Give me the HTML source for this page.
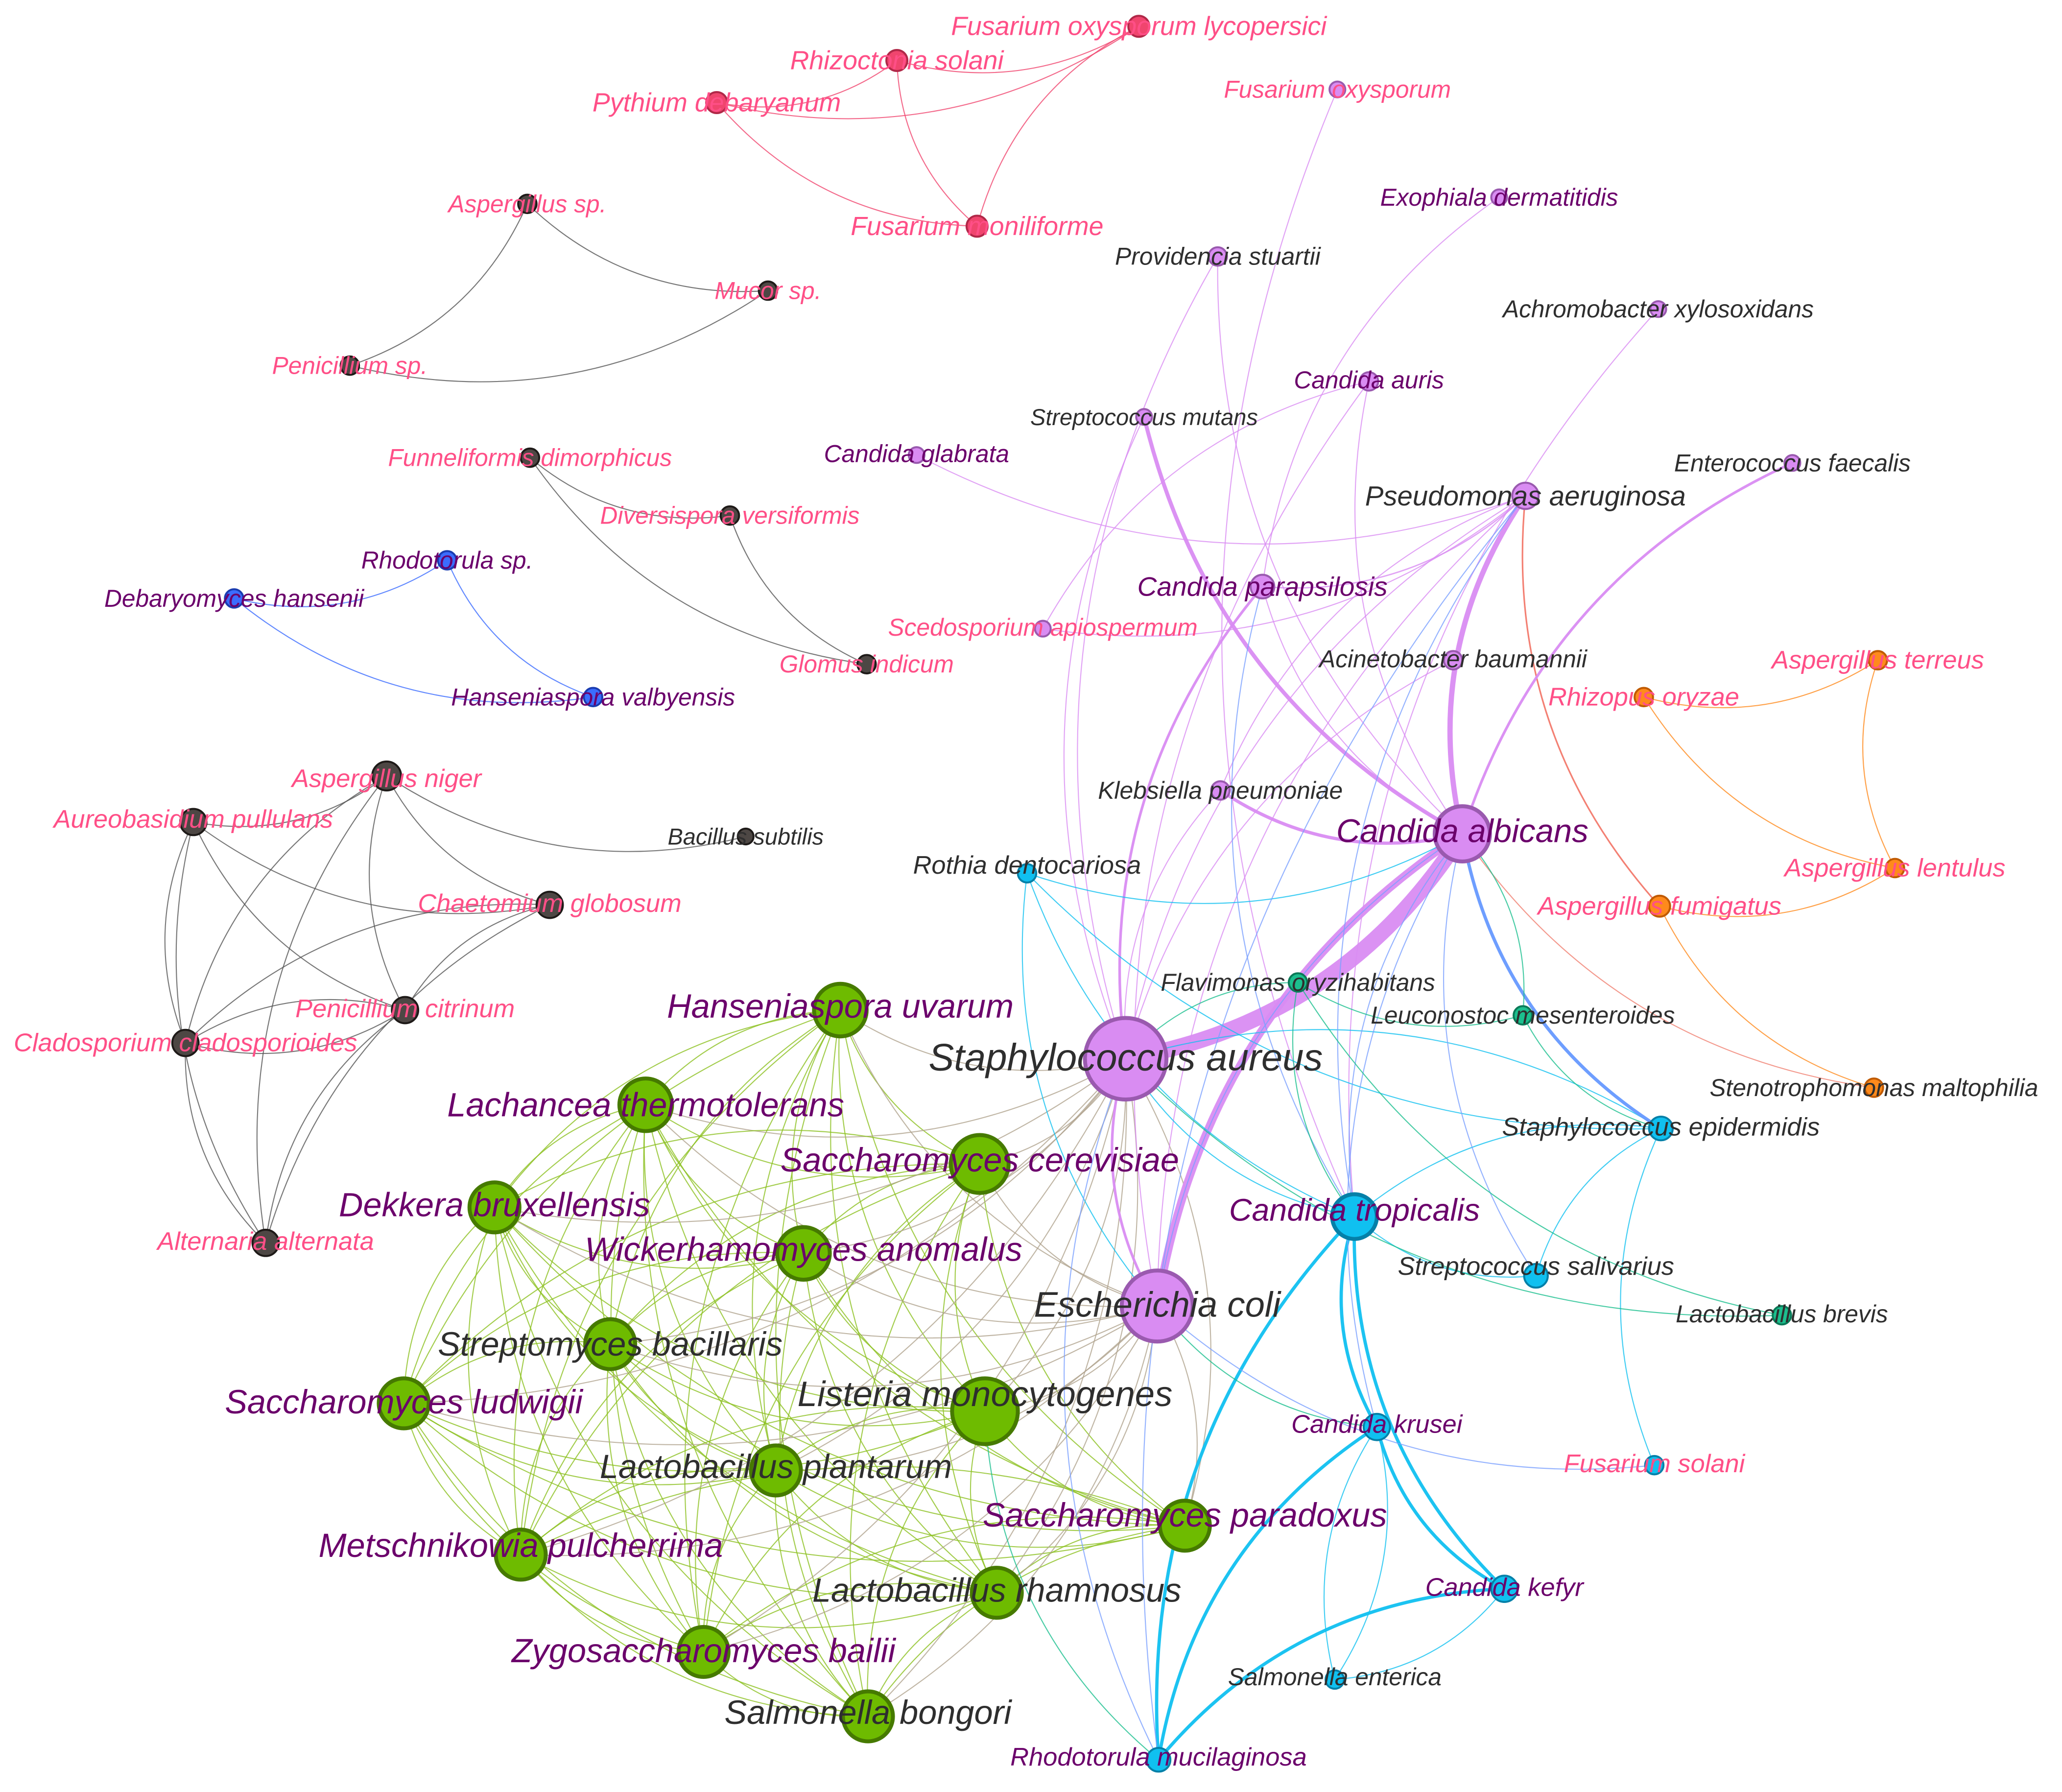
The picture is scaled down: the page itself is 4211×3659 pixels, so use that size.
<!DOCTYPE html>
<html><head><meta charset="utf-8"><style>
html,body{margin:0;padding:0;background:#fff;}
svg{display:block;}
text{font-family:"Liberation Sans",Arial,sans-serif;font-style:italic;dominant-baseline:central;text-anchor:middle;}
.p{fill:#ff4f87}.v{fill:#6b006b}.d{fill:#2e2e2e}
</style></head><body>
<svg id="s" xmlns="http://www.w3.org/2000/svg" width="4211" height="3659" viewBox="0 0 1568 1362.5">
<rect width="1568" height="1362.5" fill="#fff"/>
<g id="edges" fill="none"></g>
<g id="nodes"></g>
<g id="labels">
<text x="866" y="20" class="p" font-size="20">Fusarium oxysporum lycopersici</text>
<text x="682" y="46" class="p" font-size="20">Rhizoctonia solani</text>
<text x="545" y="78" class="p" font-size="20">Pythium debaryanum</text>
<text x="743" y="172" class="p" font-size="20">Fusarium moniliforme</text>
<text x="1017" y="68" class="p" font-size="18.5">Fusarium oxysporum</text>
<text x="401" y="155" class="p" font-size="18.5">Aspergillus sp.</text>
<text x="584" y="221" class="p" font-size="18.5">Mucor sp.</text>
<text x="266" y="278" class="p" font-size="18.5">Penicillium sp.</text>
<text x="403" y="348" class="p" font-size="18.5">Funneliformis dimorphicus</text>
<text x="555" y="392" class="p" font-size="18.5">Diversispora versiformis</text>
<text x="659" y="505" class="p" font-size="18.5">Glomus indicum</text>
<text x="340" y="426" class="v" font-size="18.5">Rhodotorula sp.</text>
<text x="178" y="455" class="v" font-size="18.5">Debaryomyces hansenii</text>
<text x="451" y="530" class="v" font-size="18.5">Hanseniaspora valbyensis</text>
<text x="294" y="592" class="p" font-size="19.5">Aspergillus niger</text>
<text x="147" y="623" class="p" font-size="19.5">Aureobasidium pullulans</text>
<text x="567" y="636" class="d" font-size="17.5">Bacillus subtilis</text>
<text x="418" y="687" class="p" font-size="19.5">Chaetomium globosum</text>
<text x="308" y="767" class="p" font-size="19.5">Penicillium citrinum</text>
<text x="141" y="793" class="p" font-size="19.5">Cladosporium cladosporioides</text>
<text x="202" y="944" class="p" font-size="19.5">Alternaria alternata</text>
<text x="1428" y="502" class="p" font-size="19.5">Aspergillus terreus</text>
<text x="1250" y="530" class="p" font-size="19.5">Rhizopus oryzae</text>
<text x="1441" y="660" class="p" font-size="19.5">Aspergillus lentulus</text>
<text x="1262" y="689" class="p" font-size="19.5">Aspergillus fumigatus</text>
<text x="1425" y="827" class="d" font-size="18.5">Stenotrophomonas maltophilia</text>
<text x="1140" y="150" class="v" font-size="18.5">Exophiala dermatitidis</text>
<text x="926" y="195" class="d" font-size="18.5">Providencia stuartii</text>
<text x="1261" y="235" class="d" font-size="18.5">Achromobacter xylosoxidans</text>
<text x="1041" y="289" class="v" font-size="18.5">Candida auris</text>
<text x="870" y="317" class="d" font-size="17.5">Streptococcus mutans</text>
<text x="697" y="345" class="v" font-size="18.5">Candida glabrata</text>
<text x="1363" y="352" class="d" font-size="18.5">Enterococcus faecalis</text>
<text x="1160" y="377" class="d" font-size="21">Pseudomonas aeruginosa</text>
<text x="960" y="446" class="v" font-size="20.5">Candida parapsilosis</text>
<text x="793" y="477" class="p" font-size="18.5">Scedosporium apiospermum</text>
<text x="1105" y="501" class="d" font-size="18.5">Acinetobacter baumannii</text>
<text x="928" y="601" class="d" font-size="18.5">Klebsiella pneumoniae</text>
<text x="1112" y="632" class="v" font-size="25">Candida albicans</text>
<text x="856" y="804" class="d" font-size="29">Staphylococcus aureus</text>
<text x="880" y="992" class="d" font-size="27">Escherichia coli</text>
<text x="987" y="747" class="d" font-size="18.5">Flavimonas oryzihabitans</text>
<text x="1158" y="772" class="d" font-size="18.5">Leuconostoc mesenteroides</text>
<text x="1355" y="999" class="d" font-size="18.5">Lactobacillus brevis</text>
<text x="781" y="658" class="d" font-size="19.5">Rothia dentocariosa</text>
<text x="1263" y="857" class="d" font-size="19.5">Staphylococcus epidermidis</text>
<text x="1030" y="920" class="v" font-size="24">Candida tropicalis</text>
<text x="1168" y="963" class="d" font-size="19.5">Streptococcus salivarius</text>
<text x="1047" y="1083" class="v" font-size="19.5">Candida krusei</text>
<text x="1258" y="1113" class="p" font-size="19.5">Fusarium solani</text>
<text x="1144" y="1207" class="v" font-size="19.5">Candida kefyr</text>
<text x="1015" y="1275" class="d" font-size="18.5">Salmonella enterica</text>
<text x="881" y="1336" class="v" font-size="19.5">Rhodotorula mucilaginosa</text>
<text x="639" y="765" class="v" font-size="25.5">Hanseniaspora uvarum</text>
<text x="491" y="840" class="v" font-size="25.5">Lachancea thermotolerans</text>
<text x="745" y="882" class="v" font-size="25.5">Saccharomyces cerevisiae</text>
<text x="376" y="916" class="v" font-size="25.5">Dekkera bruxellensis</text>
<text x="611" y="950" class="v" font-size="25.5">Wickerhamomyces anomalus</text>
<text x="464" y="1022" class="d" font-size="25.5">Streptomyces bacillaris</text>
<text x="307" y="1066" class="v" font-size="25.5">Saccharomyces ludwigii</text>
<text x="749" y="1060" class="d" font-size="27">Listeria monocytogenes</text>
<text x="590" y="1115" class="d" font-size="25.5">Lactobacillus plantarum</text>
<text x="901" y="1152" class="v" font-size="25.5">Saccharomyces paradoxus</text>
<text x="396" y="1175" class="v" font-size="25.5">Metschnikowia pulcherrima</text>
<text x="758" y="1209" class="d" font-size="25.5">Lactobacillus rhamnosus</text>
<text x="535" y="1255" class="v" font-size="25.5">Zygosaccharomyces bailii</text>
<text x="660" y="1302" class="d" font-size="25.5">Salmonella bongori</text>
</g>
</svg>
<script>
var N={
fol:[866,20,8,'pk'],rs:[682,46,8,'pk'],pd:[545,78,8,'pk'],fm:[743,172,8,'pk'],
asp:[401,155,7,'gr'],muc:[584,221,7,'gr'],pen:[266,278,7,'gr'],
fun:[403,348,7,'gr'],div:[555,392,7,'gr'],glo:[659,505,7,'gr'],
rsp:[340,426,7,'bl'],deb:[178,455,7,'bl'],hva:[451,530,7,'bl'],
ani:[294,590,11,'gr'],aur:[147,625,10,'gr'],bsu:[567,636,6,'gr'],cha:[418,688,10,'gr'],pci:[308,768,10,'gr'],cla:[141,793,10,'gr'],alt:[202,945,10,'gr'],
ate:[1428,502,7,'or'],ror:[1250,530,7,'or'],ale:[1441,660,7,'or'],afu:[1262,689,8,'or'],ste:[1425,827,7,'or'],
fox:[1017,68,6,'vi'],exo:[1140,150,6,'vi'],pro:[926,195,7,'vi'],ach:[1261,235,6,'vi'],cau:[1041,290,7,'vi'],smu:[870,317,6,'vi'],cgl:[697,346,6,'vi'],efa:[1363,352,6,'vi'],pae:[1160,377,10,'vi'],cpa:[960,446,9,'vi'],sce:[793,478,6,'vi'],aba:[1105,502,7,'vi'],kpn:[928,601,7,'vi'],
cal:[1112,634,21,'vi'],sau:[856,805,31,'vi'],eco:[880,993,27,'vi'],
fla:[987,747,7,'te'],leu:[1158,772,7,'te'],lbr:[1355,1000,7,'te'],
rot:[781,664,7,'cy'],sep:[1263,858,9,'cy'],ctr:[1030,925,17,'cy'],ssa:[1168,970,9,'cy'],ckr:[1047,1085,10,'cy'],fso:[1258,1114,7,'cy'],cke:[1144,1208,10,'cy'],sen:[1015,1277,7,'cy'],rmu:[881,1338,9,'cy'],
hur:[639,768,20,'gn'],lth:[491,840,20,'gn'],sce2:[745,885,22,'gn'],dbr:[376,918,19,'gn'],wan:[611,953,20,'gn'],sba:[464,1022,19,'gn'],slu:[307,1067,19,'gn'],lmo:[749,1073,25,'gn'],lpl:[590,1118,19,'gn'],spa:[901,1160,19,'gn'],mpu:[396,1182,19,'gn'],lrh:[758,1211,19,'gn'],zba:[535,1256,19,'gn'],sbo:[660,1305,19,'gn']};
var C={pk:['#f0456e','#b02848'],gr:['#4d4744','#1e1a18'],bl:['#3b6cff','#1a3cb0'],or:['#ff8a1c','#c05a00'],vi:['#d98cf2','#9a5aaf'],te:['#1cbf8e','#0b7a58'],cy:['#10c0f0','#0580a8'],gn:['#6ebb00','#467a00']};
var E=[];
function e(a,b,c,w){E.push([a,b,c,w||0.8]);}
['pd rs','rs fol','pd fol','pd fm','rs fm','fol fm'].forEach(s=>{s=s.split(' ');e(s[0],s[1],'#f0456e');});
['asp muc','pen asp','pen muc','fun div','fun glo','div glo'].forEach(s=>{s=s.split(' ');e(s[0],s[1],'#555');});
['deb rsp','deb hva','rsp hva'].forEach(s=>{s=s.split(' ');e(s[0],s[1],'#3b6cff');});
['aur ani','ani bsu','ani cha','ani pci','ani cla','ani alt','aur pci','aur cla','aur alt','aur cha','cha pci','cha cla','cha alt','pci cla','pci alt','cla alt','cla pci'].forEach(s=>{s=s.split(' ');e(s[0],s[1],'#555');});
['ror ate','ror ale','ate ale','afu ale','afu ste'].forEach(s=>{s=s.split(' ');e(s[0],s[1],'#ff8a1c');});
e('cal','ste','#f08070');e('pae','afu','#f06050',1.2);
var G=['hur','lth','sce2','dbr','wan','sba','slu','lmo','lpl','spa','mpu','lrh','zba','sbo'];
for(var i=0;i<G.length;i++){for(var j=i+1;j<G.length;j++)e(G[i],G[j],'#8cc020',0.8);e(G[i],'sau','#b0a48f',0.8);e(G[i],'eco','#b0a48f',0.8);}
var V='#d98cf2';
e('sau','cal',V,12);e('cal','eco',V,6);e('pae','cal',V,4);e('smu','cal',V,3);e('kpn','cal',V,2.5);e('sau','eco',V,2);e('cpa','sau',V,2);e('efa','cal',V,2);e('cpa','pae',V,1);
['fox ctr','exo cpa','pro sau','pro cal','ach ctr','cau cal','cau eco','cgl pae','sce pae','smu sau','aba sau','pae sau','pae kpn','cpa cal','kpn sau','pae eco','cau sce'].forEach(s=>{s=s.split(' ');e(s[0],s[1],V,0.8);});
var Y='#10c0f0';
e('ctr','ckr',Y,2.5);e('ctr','cke',Y,2.5);e('ctr','rmu',Y,2.5);e('cke','rmu',Y,2.5);e('ckr','cke',Y,2.5);e('ckr','rmu',Y,2.5);
['rot cal','rot sep','rot ctr','sep sau','sep ssa','sep ctr','sep fso','sen ckr','sen cke','rot eco','ctr ssa','sau ctr','ckr sen'].forEach(s=>{s=s.split(' ');e(s[0],s[1],Y,0.8);});
e('cal','sep','#6699ff',2.5);
['cal ctr','cal ssa','pae ctr','cal ckr','cal eco','pae rmu','eco fso','sau rmu','cpa ctr'].forEach(s=>{s=s.split(' ');e(s[0],s[1],'#7aa0ff',0.8);});
var T='#1cbf8e';
['fla sau','fla leu','fla lbr','leu sep','leu cal','sau lbr','eco ckr','lmo rmu','fla ctr'].forEach(s=>{s=s.split(' ');e(s[0],s[1],T,0.8);});
var ns='http://www.w3.org/2000/svg',eg=document.getElementById('edges'),ng=document.getElementById('nodes');
E.forEach(function(x){var a=N[x[0]],b=N[x[1]];if(!a||!b)return;var mx=(a[0]+b[0])/2,my=(a[1]+b[1])/2,dx=b[0]-a[0],dy=b[1]-a[1];var k=0.22;var cx=mx-dy*k,cy=my+dx*k;var p=document.createElementNS(ns,'path');p.setAttribute('d','M'+a[0]+' '+a[1]+'Q'+cx+' '+cy+' '+b[0]+' '+b[1]);p.setAttribute('stroke',x[2]);p.setAttribute('stroke-width',x[3]);p.setAttribute('stroke-opacity',x[3]>1.5?0.95:0.8);eg.appendChild(p);});
for(var k in N){var n=N[k],c=document.createElementNS(ns,'circle');c.setAttribute('cx',n[0]);c.setAttribute('cy',n[1]);c.setAttribute('r',n[2]);c.setAttribute('fill',C[n[3]][0]);c.setAttribute('stroke',C[n[3]][1]);c.setAttribute('stroke-width',n[2]>15?3:1.5);ng.appendChild(c);}
</script>
</body></html>
